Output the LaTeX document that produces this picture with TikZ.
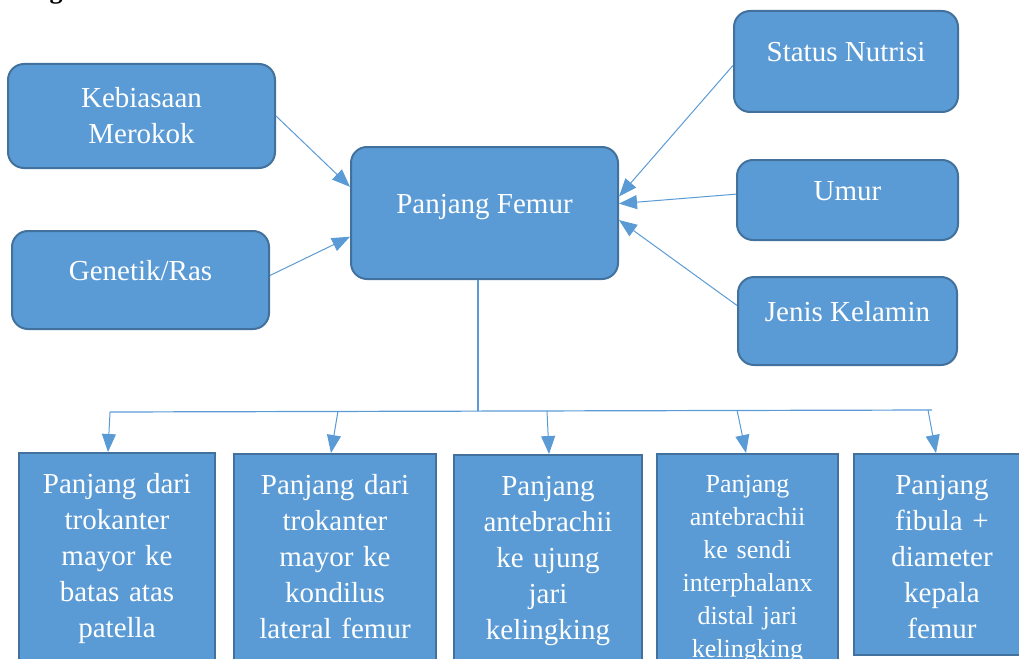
\documentclass[tikz,border=0pt]{standalone}
\usepackage{fontspec}
\setmainfont{Liberation Serif}
\usepackage{xcolor}
\usepackage{tikz}
\usetikzlibrary{arrows.meta}
\definecolor{boxfill}{HTML}{5B9BD5}
\definecolor{boxedge}{HTML}{41719C}
\definecolor{linkc}{HTML}{5B9BD5}
\tikzset{
  box/.style={draw=boxedge,fill=boxfill,line width=2pt,rounded corners=16pt,align=center,text=white,font=\fontsize{29}{36}\selectfont},
  onebox/.style={box,text height=20pt,text depth=19pt},
  colbox/.style={draw=boxedge,fill=boxfill,line width=2pt,anchor=north,align=center,text=white,font=\fontsize{29}{36}\selectfont,inner xsep=4pt,inner ysep=20pt,text height=20pt,text depth=180pt},
  arr/.style={-{Triangle[length=18pt,width=14pt]},draw=linkc,line width=1pt},
  conn/.style={draw=linkc,line width=1.2pt},
}
\begin{document}
\begin{tikzpicture}[x=1pt,y=-1pt]
  \useasboundingbox (0,0) rectangle (1019,658);
  \node[anchor=base,font=\fontsize{26}{30}\selectfont\bfseries] (capg) at (56,-1) {g};
  \node[box,minimum width=267pt,minimum height=104pt] (smoke) at (141.5,116) {Kebiasaan\\Merokok};
  \node[onebox,minimum width=257pt,minimum height=98pt] (race) at (140.5,280) {Genetik/Ras};
  \node[onebox,minimum width=267pt,minimum height=132pt] (femur) at (484.5,213) {Panjang Femur};
  \node[onebox,minimum width=224pt,minimum height=101pt] (nutri) at (846,61.5) {Status Nutrisi};
  \node[onebox,minimum width=221pt,minimum height=80pt] (age) at (847.5,200) {Umur};
  \node[onebox,minimum width=219pt,minimum height=88pt] (sex) at (847.5,321) {Jenis Kelamin};
  \draw[arr] (smoke.east) -- (femur.169);
  \draw[arr] (race.2) -- (femur.190);
  \draw[arr] (nutri.182) -- (femur.7);
  \draw[arr] (age.177) -- (femur.4);
  \draw[arr] (sex.172) -- (femur.357);
  \node[colbox,text width=188pt] (b1) at (117,452) {Panjang dari\\trokanter\\mayor ke\\batas atas\\patella};
  \node[colbox,text width=194pt] (b2) at (335,453) {Panjang dari\\trokanter\\mayor ke\\kondilus\\lateral femur};
  \node[colbox,text width=180pt] (b3) at (548,454) {Panjang\\antebrachii\\ke ujung\\jari\\kelingking};
  \node[colbox,text width=173pt,font=\fontsize{26}{33}\selectfont,text height=18pt] (b4) at (747.5,453) {Panjang\\antebrachii\\ke sendi\\interphalanx\\distal jari\\kelingking};
  \node[colbox,text width=168pt,text depth=141pt] (b5) at (942,453) {Panjang\\fibula +\\diameter\\kepala\\femur};
  \coordinate (hub) at (478,411);
  \coordinate (tl) at (110,412);
  \coordinate (tr) at (932,410);
  \coordinate (k2) at (338,411);
  \coordinate (k3) at (547,411);
  \coordinate (k4) at (737,410);
  \coordinate (k5) at (928,410);
  \draw[conn] (femur.south -| hub) -- (hub);
  \draw[conn] (tl) -- (tr);
  \draw[arr] (tl) -- ([xshift=-9pt]b1.north);
  \draw[arr] (k2) -- ([xshift=-4pt]b2.north);
  \draw[arr] (k3) -- ([xshift=1pt]b3.north);
  \draw[arr] (k4) -- ([xshift=-1.5pt]b4.north);
  \draw[arr] (k5) -- ([xshift=-6pt]b5.north);
\end{tikzpicture}
\end{document}
